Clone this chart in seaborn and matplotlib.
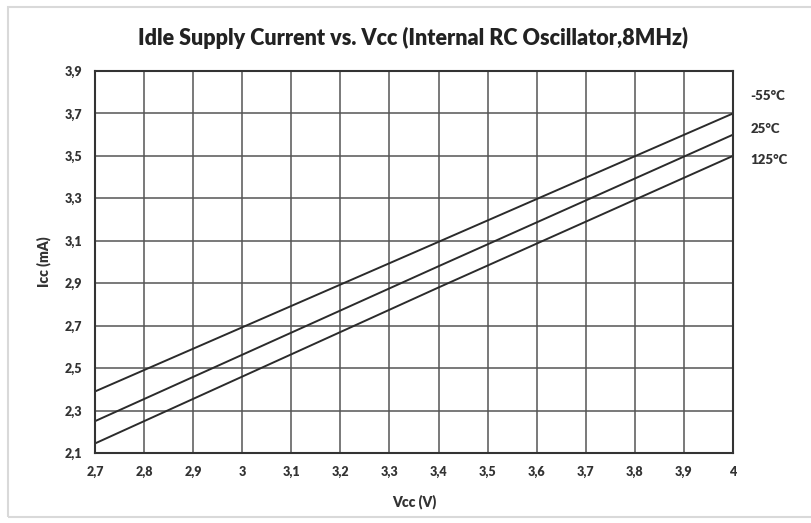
import seaborn as sns
import matplotlib.pyplot as plt
import matplotlib.patches as mpatches
import pandas as pd
import numpy as np

# Values
vcc = [2.7, 3.4, 4.0]
icc_m55 = [2.39, 3.095, 3.70]
icc_25 = [2.25, 2.98, 3.60]
icc_125 = [2.145, 2.88, 3.50]
temps = ['-55°C', '25°C', '125°C']
label_y = [3.78, 3.627, 3.48]

xticks = np.round(np.arange(2.7, 4.01, 0.1), 1)
yticks = np.round(np.arange(2.1, 3.91, 0.2), 1)

df = pd.DataFrame({
    'vcc': vcc * 3,
    'icc': icc_m55 + icc_25 + icc_125,
    'temp': [t for t in temps for _ in vcc],
})

sns.set_style('white')
plt.rcParams['font.family'] = ['Lato', 'DejaVu Sans']

fig = plt.figure(figsize=(8.12, 5.23), dpi=100)
ax = fig.add_axes([95 / 812, 1 - 453 / 523, (733 - 95) / 812, (453 - 71) / 523])

sns.lineplot(data=df, x='vcc', y='icc', hue='temp', palette=['#2b2b2b'] * 3,
             linewidth=1.4, legend=False, ax=ax)

ax.set_xlim(2.7, 4.0)
ax.set_ylim(2.1, 3.9)
ax.set_xticks(xticks)
ax.set_yticks(yticks)
ax.set_xticklabels([('%g' % v).replace('.', ',') for v in xticks], fontweight='heavy', fontsize=9, color='#333333')
ax.set_yticklabels([('%g' % v).replace('.', ',') for v in yticks], fontweight='heavy', fontsize=9, color='#333333')
ax.tick_params(length=0, pad=9)
ax.grid(True, color='#555555', linewidth=1.1)
ax.set_axisbelow(True)
for s in ax.spines.values():
    s.set_color('#333333')
    s.set_linewidth(1.5)

for t, y in zip(temps, label_y):
    ax.text(4.035, y, t, fontsize=9.5, fontweight='heavy', color='#333333', va='center', ha='left')

ax.set_xlabel('Vcc (V)', fontsize=10, fontweight='heavy', color='#333333', labelpad=12)
ax.set_ylabel('Icc (mA)', fontsize=10, fontweight='heavy', color='#333333', labelpad=10)
fig.text(413 / 812, 1 - 38 / 523, 'Idle Supply Current vs. Vcc (Internal RC Oscillator,8MHz)',
         ha='center', va='center', fontsize=15.5, fontweight='heavy', color='#222222')

fig.patches.append(mpatches.Rectangle((8 / 812, 6 / 523), 1.2, 1 - 13 / 523, transform=fig.transFigure,
                                      fill=False, edgecolor='#d9d9d9', linewidth=1.5))

plt.savefig('out.png', dpi=100)
